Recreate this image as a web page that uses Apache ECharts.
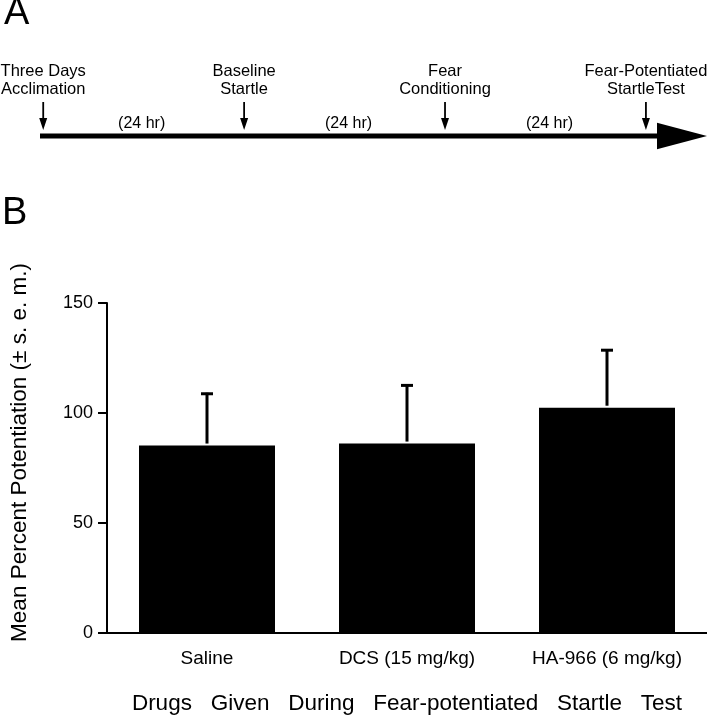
<!DOCTYPE html>
<html>
<head>
<meta charset="utf-8">
<script src="https://cdn.jsdelivr.net/npm/echarts@6/dist/echarts.min.js"></script>
<style>
html,body{margin:0;padding:0;background:#fff;}
#chart{width:707px;height:720px;}
</style>
</head>
<body>
<div id="chart"></div>
<script>
// ---- Panel A: timeline ----
const stageLabels = ['Three Days\nAcclimation', 'Baseline\nStartle', 'Fear\nConditioning', 'Fear-Potentiated\nStartleTest'];
const stageDays = [0, 1, 2, 3];
const intervalLabels = ['(24 hr)', '(24 hr)', '(24 hr)'];
const intervalDays = [0.49, 1.52, 2.52];

// ---- Panel B: bar chart ----
const categories = ['Saline', 'DCS (15 mg/kg)', 'HA-966 (6 mg/kg)'];
const meanPotentiation = [85.2, 86.1, 102.4];
const semPotentiation = [24.0, 26.9, 26.6];
const yTickValues = [0, 50, 100, 150];

const FONT = 'Liberation Sans, Arial, Helvetica, sans-serif';
const TL_MIN = -0.016, TL_MAX = 3.304, ARROW_BASE = 3.055;

const chart = echarts.init(document.getElementById('chart'), null, {renderer: 'canvas'});

const option = {
  backgroundColor: '#ffffff',
  animation: false,
  textStyle: {fontFamily: FONT, color: '#000'},
  graphic: [
    {type: 'text', left: 4, top: -5, style: {text: 'A', fontSize: 38, fontFamily: FONT, fill: '#000'}},
    {type: 'text', left: 2, top: 195, style: {text: 'B', fontSize: 38, fontFamily: FONT, fill: '#000'}}
  ],
  grid: [
    {left: 105, right: 0, top: 303, bottom: 87, containLabel: false},
    {left: 40, right: 0, top: 100, bottom: 584, containLabel: false}
  ],
  xAxis: [
    {
      gridIndex: 0,
      type: 'category',
      data: categories,
      axisLine: {lineStyle: {color: '#000', width: 2}},
      axisTick: {alignWithLabel: true, length: 7, lineStyle: {color: '#000', width: 2}},
      axisLabel: {color: '#000', fontSize: 19, fontFamily: FONT, margin: 16},
      name: 'Drugs   Given   During   Fear-potentiated   Startle   Test',
      nameLocation: 'middle',
      nameGap: 59,
      nameTextStyle: {color: '#000', fontSize: 22.5, fontFamily: FONT}
    },
    {gridIndex: 1, type: 'value', min: TL_MIN, max: TL_MAX, show: false}
  ],
  yAxis: [
    {
      gridIndex: 0,
      type: 'value',
      min: yTickValues[0],
      max: yTickValues[yTickValues.length - 1],
      interval: yTickValues[1] - yTickValues[0],
      axisLine: {show: true, lineStyle: {color: '#000', width: 2}},
      axisTick: {show: true, length: 9, lineStyle: {color: '#000', width: 2}},
      axisLabel: {color: '#000', fontSize: 18, fontFamily: FONT, margin: 14},
      splitLine: {show: false},
      name: 'Mean Percent Potentiation (\u00B1 s. e. m.)',
      nameLocation: 'middle',
      nameGap: 76,
      nameTextStyle: {color: '#000', fontSize: 22.5, fontFamily: FONT, padding: [0, 0, 0, 31]}
    },
    {gridIndex: 1, type: 'value', min: 0, max: 1, show: false}
  ],
  series: [
    {
      type: 'bar',
      xAxisIndex: 0, yAxisIndex: 0,
      data: meanPotentiation,
      barWidth: '68%',
      itemStyle: {color: '#000'}
    },
    {
      type: 'custom',
      xAxisIndex: 0, yAxisIndex: 0,
      data: meanPotentiation.map((m, i) => [i, m, semPotentiation[i]]),
      renderItem: function (params, api) {
        const i = api.value(0), m = api.value(1), s = api.value(2);
        const base = api.coord([i, m]);
        const top = api.coord([i, m + s]);
        return {
          type: 'group',
          children: [
            {type: 'line', shape: {x1: top[0], y1: base[1] - 2, x2: top[0], y2: top[1]}, style: {stroke: '#000', lineWidth: 3}},
            {type: 'line', shape: {x1: top[0] - 6, y1: top[1] + 1, x2: top[0] + 6, y2: top[1] + 1}, style: {stroke: '#000', lineWidth: 3}}
          ]
        };
      },
      z: 5
    },
    {
      // timeline shaft and arrowhead
      type: 'custom',
      xAxisIndex: 1, yAxisIndex: 1,
      data: [[TL_MIN, 0]],
      renderItem: function (params, api) {
        const a = api.coord([TL_MIN, 0]);
        const b = api.coord([ARROW_BASE, 0]);
        const c = api.coord([TL_MAX, 0]);
        return {
          type: 'group',
          children: [
            {type: 'line', shape: {x1: a[0], y1: a[1], x2: b[0] + 2, y2: b[1]}, style: {stroke: '#000', lineWidth: 5}},
            {type: 'polygon', shape: {points: [[b[0], b[1] - 13.3], [c[0], c[1]], [b[0], b[1] + 13.3]]}, style: {fill: '#000'}}
          ]
        };
      }
    },
    {
      // stage arrows and labels
      type: 'custom',
      xAxisIndex: 1, yAxisIndex: 1,
      data: stageDays.map((d, i) => [d, 0, i]),
      renderItem: function (params, api) {
        const p = api.coord([api.value(0), 0]);
        const idx = params.dataIndex;
        return {
          type: 'group',
          children: [
            {type: 'line', shape: {x1: p[0], y1: p[1] - 34, x2: p[0], y2: p[1] - 16}, style: {stroke: '#000', lineWidth: 1.8}},
            {type: 'polygon', shape: {points: [[p[0] - 4, p[1] - 18], [p[0] + 4, p[1] - 18], [p[0], p[1] - 6]]}, style: {fill: '#000'}},
            {type: 'text', x: p[0], y: p[1] - 38,
              style: {text: stageLabels[idx], align: 'center', verticalAlign: 'bottom', fontSize: 16.5, lineHeight: 17.5, fontFamily: FONT, fill: '#000'}}
          ]
        };
      }
    },
    {
      // interval labels
      type: 'custom',
      xAxisIndex: 1, yAxisIndex: 1,
      data: intervalDays.map((d, i) => [d, 0, i]),
      renderItem: function (params, api) {
        const p = api.coord([api.value(0), 0]);
        return {
          type: 'text', x: p[0], y: p[1] - 4,
          style: {text: intervalLabels[params.dataIndex], align: 'center', verticalAlign: 'bottom', fontSize: 16, lineHeight: 16, fontFamily: FONT, fill: '#000'}
        };
      }
    }
  ]
};
chart.setOption(option);
</script>
</body>
</html>
